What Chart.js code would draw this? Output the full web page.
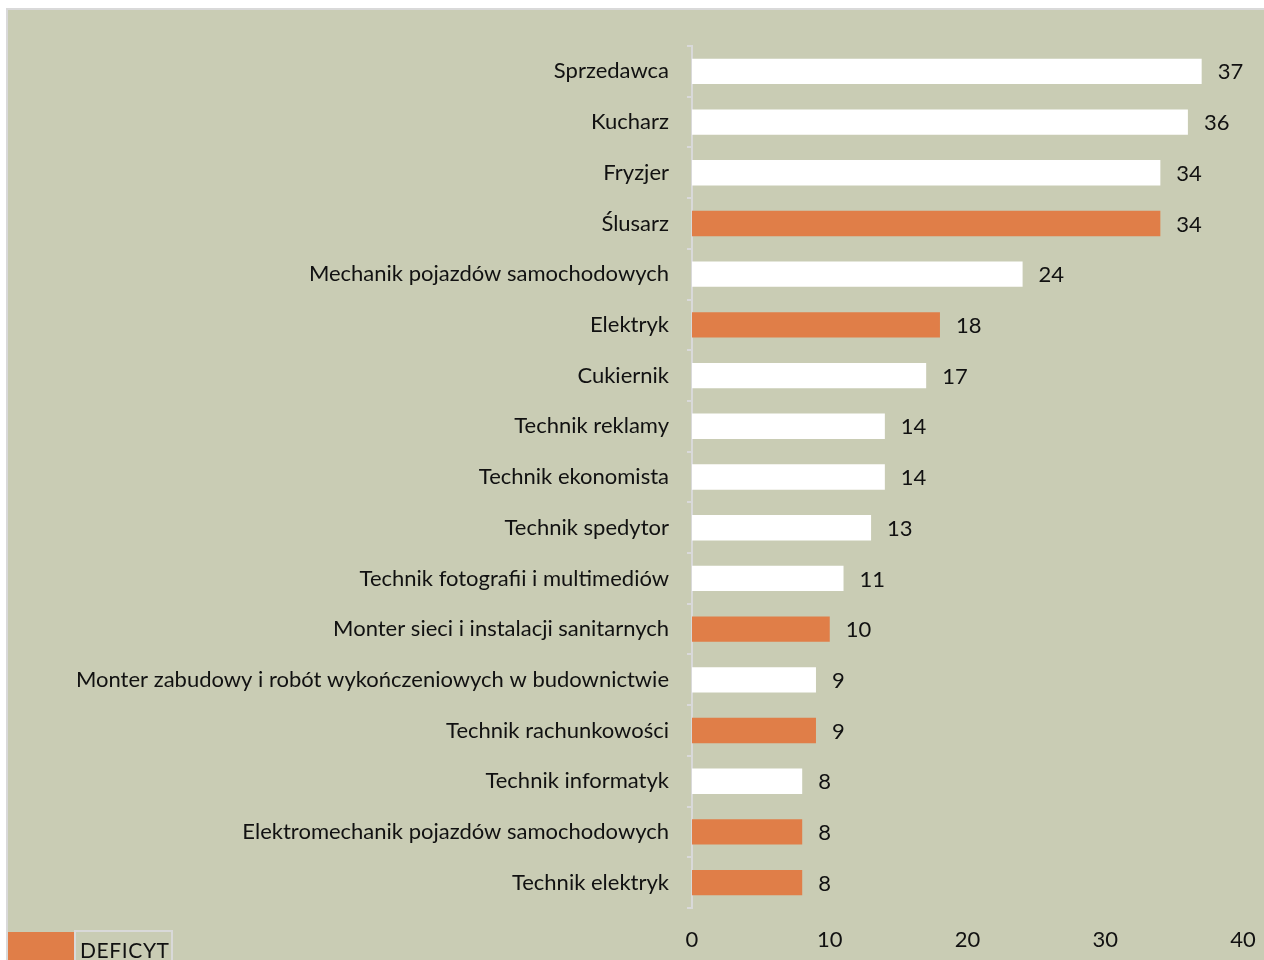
<!DOCTYPE html>
<html lang="pl">
<head>
  <meta charset="UTF-8" />
  <title>Zawody - deficyt</title>
  <script src="https://cdn.jsdelivr.net/npm/chart.js"></script>
  <style>
    body {
      margin: 0;
      background: #ffffff;
      font-family: 'Lato', sans-serif;
    }
    .panel {
      position: absolute;
      left: 6px;
      top: 8px;
      width: 1256px;
      height: 950px;
      background: #c9ccb4;
      border-left: 2px solid #d9d9d9;
      border-top: 2px solid #d9d9d9;
      overflow: hidden;
    }
    canvas {
      position: absolute;
      left: 0;
      top: 0;
    }
    .legend-box {
      position: absolute;
      left: 0;
      top: 922px;
      width: 66px;
      height: 40px;
      background: #e07e48;
    }
    .legend-text {
      position: absolute;
      left: 66px;
      top: 920px;
      width: 99px;
      height: 40px;
      border: 2px solid #d9d9d9;
      font-size: 21px;
      letter-spacing: 0.6px;
      color: #111;
      padding: 5px 0 0 4px;
      box-sizing: border-box;
    }
  </style>
</head>
<body>
  <div class="panel">
    <canvas id="chart" width="1256" height="950"></canvas>
    <div class="legend-box"></div>
    <div class="legend-text">DEFICYT</div>
  </div>

  <script>
    // zawody i liczba osób
    const zawody = [
      'Sprzedawca', 'Kucharz', 'Fryzjer', 'Ślusarz',
      'Mechanik pojazdów samochodowych', 'Elektryk', 'Cukiernik',
      'Technik reklamy', 'Technik ekonomista', 'Technik spedytor',
      'Technik fotografii i multimediów', 'Monter sieci i instalacji sanitarnych',
      'Monter zabudowy i robót wykończeniowych w budownictwie',
      'Technik rachunkowości', 'Technik informatyk',
      'Elektromechanik pojazdów samochodowych', 'Technik elektryk'
    ];
    const wartosci = [37, 36, 34, 34, 24, 18, 17, 14, 14, 13, 11, 10, 9, 9, 8, 8, 8];
    // 1 = deficyt (pomarańczowy)
    const deficyt = [0, 0, 0, 1, 0, 1, 0, 0, 0, 0, 0, 1, 0, 1, 0, 1, 1];
    const osX = [0, 10, 20, 30, 40];

    const colors = deficyt.map(d => d ? '#e07e48' : '#ffffff');

    // etykiety wartości przy słupkach
    const valueLabels = {
      id: 'valueLabels',
      afterDatasetsDraw(chart) {
        const ctx = chart.ctx;
        const meta = chart.getDatasetMeta(0);
        ctx.save();
        ctx.font = '22px Lato, sans-serif';
        ctx.fillStyle = '#111111';
        ctx.textBaseline = 'middle';
        meta.data.forEach((bar, i) => {
          ctx.fillText(String(wartosci[i]), bar.x + 16, bar.y + 1);
        });
        ctx.restore();
      }
    };

    new Chart(document.getElementById('chart'), {
      type: 'bar',
      data: {
        labels: zawody,
        datasets: [{
          data: wartosci,
          backgroundColor: colors,
          borderWidth: 0,
          categoryPercentage: 1,
          barPercentage: 0.5
        }]
      },
      options: {
        indexAxis: 'y',
        responsive: false,
        animation: false,
        layout: { padding: { top: 36, right: 21, left: 0, bottom: 0 } },
        plugins: {
          legend: { display: false },
          tooltip: { enabled: false }
        },
        scales: {
          x: {
            min: 0,
            max: 40,
            afterBuildTicks(scale) {
              scale.ticks = osX.map(v => ({ value: v }));
            },
            grid: { display: false },
            border: { display: false },
            ticks: {
              padding: 11,
              maxRotation: 0,
              color: '#111111',
              font: { family: 'Lato', size: 22 }
            },
            afterFit(scale) {
              scale.height = 52;
              scale.paddingLeft = 0;
              scale.paddingRight = 0;
            }
          },
          y: {
            grid: {
              offset: true,
              drawOnChartArea: false,
              tickLength: 5,
              color: '#d9d9d9',
              lineWidth: 2
            },
            border: { color: '#d9d9d9', width: 2 },
            ticks: {
              padding: 18,
              color: '#111111',
              font: { family: 'Lato', size: 22 }
            },
            afterFit(scale) {
              scale.width = 684;
              scale.paddingTop = 0;
              scale.paddingBottom = 0;
            }
          }
        }
      },
      plugins: [valueLabels]
    });
  </script>
</body>
</html>
